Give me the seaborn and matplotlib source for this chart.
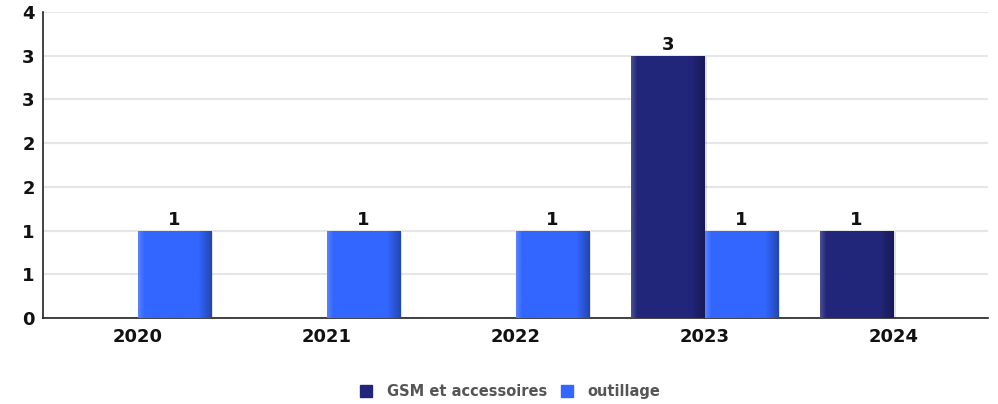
import matplotlib
matplotlib.use('Agg')
import matplotlib.pyplot as plt
import matplotlib.colors as mcolors
import numpy as np
import pandas as pd
import seaborn as sns
from matplotlib.lines import Line2D
from matplotlib.patches import Rectangle

years = ['2020', '2021', '2022', '2023', '2024']
gsm = [None, None, None, 3, 1]
outillage = [1, 1, 1, 1, None]
series_names = ['GSM et accessoires', 'outillage']
colors = ['#22267a', '#3366ff']

y_ticks = [0, 0.5, 1, 1.5, 2, 2.5, 3, 3.5]
y_tick_labels = ['0', '1', '1', '2', '2', '3', '3', '4']

rows = []
for year, g, o in zip(years, gsm, outillage):
    if g is not None:
        rows.append({'Year': year, 'Type': series_names[0], 'Count': g})
    if o is not None:
        rows.append({'Year': year, 'Type': series_names[1], 'Count': o})
data = pd.DataFrame(rows)

sns.set_style('white')
plt.rcParams['font.family'] = ['DejaVu Sans']

fig = plt.figure(figsize=(9.98, 4.04), dpi=100)
ax = fig.add_axes([0.0431, 0.2129, 0.9469, 0.7574])

sns.barplot(data=data, x='Year', y='Count', hue='Type', order=years,
            hue_order=series_names, palette=colors, width=0.78,
            saturation=1, legend=False, linewidth=0, ax=ax, zorder=3)


# fake the glossy 3D look: horizontal gradient + soft shadow on the right
def shade(base):
    rgb = np.array(mcolors.to_rgb(base))
    n = 60
    prof = np.ones((n, 3)) * rgb
    for i in range(n):
        t = i / (n - 1)
        if t < 0.08:
            k = 1 - t / 0.08
            prof[i] = rgb + (1 - rgb) * 0.18 * k
        elif t > 0.82:
            k = (t - 0.82) / 0.18
            prof[i] = rgb * (1 - 0.3 * k)
    return prof[np.newaxis, :, :]


for container, base in zip(ax.containers, colors):
    for patch in container:
        h = patch.get_height()
        if not np.isfinite(h) or h <= 0:
            continue
        x, w = patch.get_x(), patch.get_width()
        patch.set_visible(False)
        shadow = Rectangle((x + 0.012, 0), w, h - 0.02, color='#000000',
                           alpha=0.12, zorder=2, linewidth=0)
        ax.add_patch(shadow)
        img = ax.imshow(shade(base), extent=[x, x + w, 0, h], aspect='auto',
                        interpolation='bilinear', zorder=3)
        clip = Rectangle((x, 0), w, h, transform=ax.transData)
        img.set_clip_path(clip)

for container in ax.containers:
    ax.bar_label(container, fmt='%d', padding=1, fontsize=13,
                 fontweight='bold', color='#111111')

ax.set_ylim(0, 3.5)
ax.set_xlim(-0.5, len(years) - 0.5)
ax.set_yticks(y_ticks)
ax.set_yticklabels(y_tick_labels, fontsize=13, fontweight='bold', color='#111111')
ax.set_xticks(range(len(years)))
ax.set_xticklabels(years, fontsize=13, fontweight='bold', color='#111111')
ax.tick_params(axis='x', which='major', length=0, pad=7)
ax.set_xticks(np.arange(0.5, len(years) - 0.5, 1), minor=True)
ax.tick_params(axis='x', which='minor', length=4, width=1, color='#333333')
ax.tick_params(axis='y', length=4, width=1, color='#333333', pad=2)
ax.grid(axis='y', color='#e6e6e6', linewidth=1.5, zorder=0)
ax.set_xlabel('')
ax.set_ylabel('')

for side in ['top', 'right']:
    ax.spines[side].set_visible(False)
for side in ['left', 'bottom']:
    ax.spines[side].set_color('#222222')
    ax.spines[side].set_linewidth(1.2)

handles = [Line2D([], [], marker='s', linestyle='', markersize=9, color=c)
           for c in colors]
fig.legend(handles, series_names, loc='center', bbox_to_anchor=(0.507, 0.03),
           ncol=2, frameon=False, handletextpad=0.4, columnspacing=0.4,
           prop={'weight': 'bold', 'size': 10.5}, labelcolor='#555555')

fig.savefig('out.png', dpi=100)
